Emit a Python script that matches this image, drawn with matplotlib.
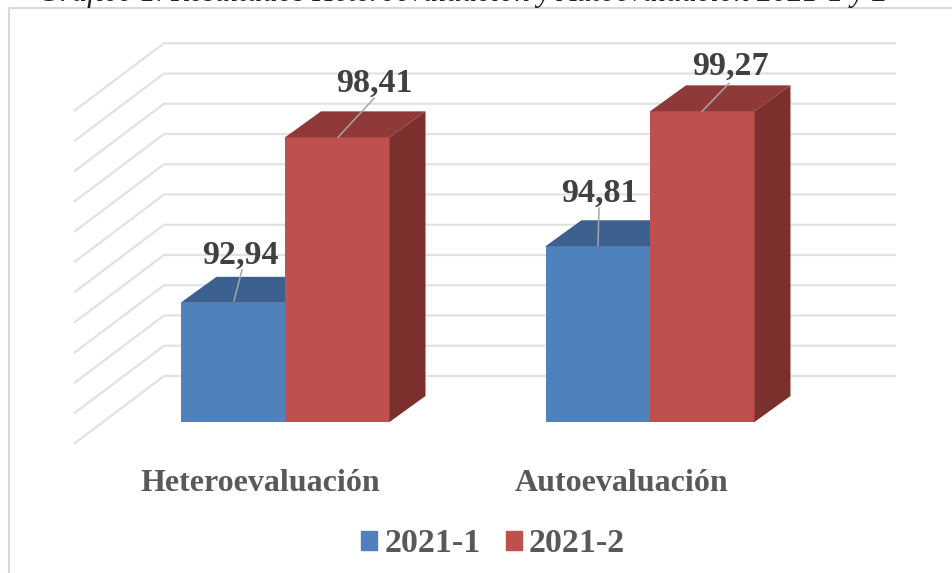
#!/usr/bin/env python
import matplotlib
matplotlib.use('Agg')
import matplotlib.pyplot as plt
from matplotlib.patches import Patch
import numpy as np

categories = ['Heteroevaluación', 'Autoevaluación']
series_names = ['2021-1', '2021-2']
vals_1 = [92.94, 94.81]
vals_2 = [98.41, 99.27]
labels_1 = ['92,94', '94,81']
labels_2 = ['98,41', '99,27']
grid_vals = np.arange(89, 101, 1)
caption = 'Gráfico 1. Resultados Heteroevaluación y Autoevaluación 2021-1 y 2'

plt.rcParams['font.family'] = ['Liberation Serif', 'DejaVu Serif']
plt.rcParams['font.weight'] = 'bold'

# pixels per unit on both axes, the chart is a fake 3d so all goes by offsets
px_x = 365.0
px_y = 30.25
wid = 104.5 / px_x
dx = 36 / px_x
dy = 26 / px_y

fig = plt.figure(figsize=(9.52, 5.73), dpi=100)
ax = fig.add_axes([0, 0, 1, 1])
ax.set_xlim(-285 / px_x, (952 - 285) / px_x)
ax.set_ylim(89 - (573 - 422) / px_y, 89 + 422 / px_y)
ax.axis('off')

# outer frame of the chart
ax.plot([-276 / px_x, -276 / px_x, 670 / px_x],
        [89 - 160 / px_y, 89 + 414 / px_y, 89 + 414 / px_y],
        color='#D9D9D9', lw=1.5, zorder=1, clip_on=False)

# walls
back_off = 46 / px_y
front_off = -21 / px_y
x_front = -210 / px_x
x_back = -121 / px_x
x_right = 610 / px_x
for v in grid_vals:
    ax.plot([x_front, x_back, x_right], [v + front_off, v + back_off, v + back_off],
            color='#E2E2E2', lw=1.6, zorder=1, solid_joinstyle='miter')


def draw_bar(x0, val, front, top, side, z):
    ax.bar(x0, val - 89, wid, bottom=89, align='edge', color=front, lw=0, zorder=z)
    ax.fill([x0, x0 + dx, x0 + wid + dx, x0 + wid], [val, val + dy, val + dy, val], color=top, lw=0, zorder=z)
    ax.fill([x0 + wid, x0 + wid + dx, x0 + wid + dx, x0 + wid],
            [89, 89 + dy, val + dy, val], color=side, lw=0, zorder=z)


for i in range(2):
    draw_bar(i - wid, vals_1[i], '#4F81BD', '#3C618F', '#325175', 2)
    draw_bar(i, vals_2[i], '#C0504D', '#8F3A38', '#7B302E', 3)

# data labels with leader lines, offsets in px
lab_off_1 = [(-45, 48), (-51, 53)]
lab_off_2 = [(89, 54), (80, 45)]
lead_1 = [(-51, 2, -43, 33), (-52, 1, -51, 38)]
lead_2 = [(53, 0, 89, 39), (52, 0, 79, 28)]
for i in range(2):
    for val, lab, off, ld in ((vals_1[i], labels_1[i], lab_off_1[i], lead_1[i]),
                              (vals_2[i], labels_2[i], lab_off_2[i], lead_2[i])):
        ax.plot([i + ld[0] / px_x, i + ld[2] / px_x], [val + ld[1] / px_y, val + ld[3] / px_y],
                color='#A6A6A6', lw=1.1, zorder=5)
        ax.text(i + off[0] / px_x, val + off[1] / px_y, lab, ha='center', va='center',
                fontsize=24.5, color='#404040', zorder=6)

# category labels
ax.text(0 - 25 / px_x, 89 - 61 / px_y, categories[0], ha='center', va='center', fontsize=23, color='#595959')
ax.text(1 - 28 / px_x, 89 - 61 / px_y, categories[1], ha='center', va='center', fontsize=23, color='#595959')

# caption is cut by the top of the image
ax.text((38 - 285) / px_x, 89 + 421 / px_y, caption, ha='left', va='baseline', fontsize=22,
        style='italic', weight='normal', color='#222222', clip_on=True)

handles = [Patch(color='#4F81BD'), Patch(color='#C0504D')]
ax.legend(handles, series_names, loc='center', bbox_to_anchor=(493 / 952, 1 - 544 / 573), ncol=2, frameon=False,
          fontsize=24.5, labelcolor='#595959', handlelength=0.47, handleheight=0.47, handletextpad=0.2,
          columnspacing=0.74, borderpad=0, borderaxespad=0)

plt.savefig('out.png', dpi=100)
plt.close()
